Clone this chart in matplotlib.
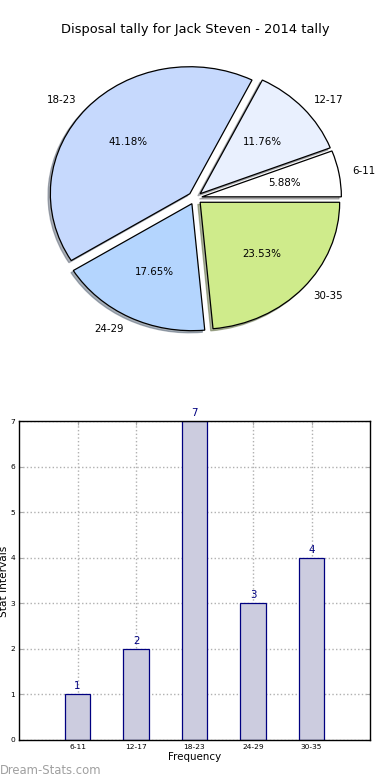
import matplotlib
matplotlib.use("Agg")
import matplotlib.pyplot as plt
from matplotlib.patches import Shadow

# data
groups = ["6-11", "12-17", "18-23", "24-29", "30-35"]
counts = [1, 2, 7, 3, 4]
pie_colors = ["#ffffff", "#e9f0fe", "#c6d9fd", "#b4d5fe", "#cfeb8b"]
title = "Disposal tally for Jack Steven - 2014 tally"

W, H = 390, 780
fig = plt.figure(figsize=(W / 100, H / 100), dpi=100)

# pie on top (elliptical, like the old renderer)
cx, cy, rx, ry = 195, 198, 139.5, 127
lim = 1.25
pax = fig.add_axes([(cx - lim * rx) / W, (H - cy - lim * ry) / H,
                    2 * lim * rx / W, 2 * lim * ry / H])
wedges, texts, autotexts = pax.pie(counts, labels=groups, colors=pie_colors,
                                   explode=[0.05] * len(counts), autopct="%.2f%%",
                                   wedgeprops=dict(edgecolor="black", linewidth=0.9),
                                   textprops=dict(fontsize=7.4))
# thin shadow, lower left
for w in wedges:
    sh = Shadow(w, -0.012, -0.012, shade=0.55, zorder=w.get_zorder() - 0.1)
    pax.add_patch(sh)
pax.set_aspect("auto")
pax.set_xlim(-lim, lim)
pax.set_ylim(-lim, lim)
pax.axis("off")
fig.text(0.5, 1 - 30 / H, title, ha="center", va="center", fontsize=9.4)

# bar chart below
bax = fig.add_axes([19 / W, 1 - 740 / H, 351 / W, 319 / H])
xs = list(range(1, len(groups) + 1))
bax.bar(xs, counts, width=0.44, color="#ccccdf", edgecolor="#000080", linewidth=0.9, zorder=2)
for x, v in zip(xs, counts):
    bax.text(x, v + 0.07, str(v), ha="center", va="bottom", color="#000080", fontsize=7.4)
bax.set_xlim(0, 6)
bax.set_ylim(0, 7)
bax.set_xticks(xs)
bax.set_xticklabels(groups)
bax.set_yticks(range(0, 8))
bax.grid(True, linestyle=":", color="#b0b0b0", linewidth=1, zorder=1)
bax.tick_params(direction="in", length=3, color="#aaaaaa", top=True, right=True,
                labelsize=5.4, pad=3)
for s in bax.spines.values():
    s.set_linewidth(1)
bax.set_xlabel("Frequency", fontsize=7.4, labelpad=1)
# y label sits right at the left edge, as in the reference
fig.text(4 / W, 1 - 581 / H, "Stat Intervals", rotation=90, ha="center", va="center", fontsize=7.6)

fig.text(0, 1 - 770 / H, "Dream-Stats.com", ha="left", va="center", fontsize=8.4, color="#a0a0a0")

fig.savefig("out.png", dpi=100)
